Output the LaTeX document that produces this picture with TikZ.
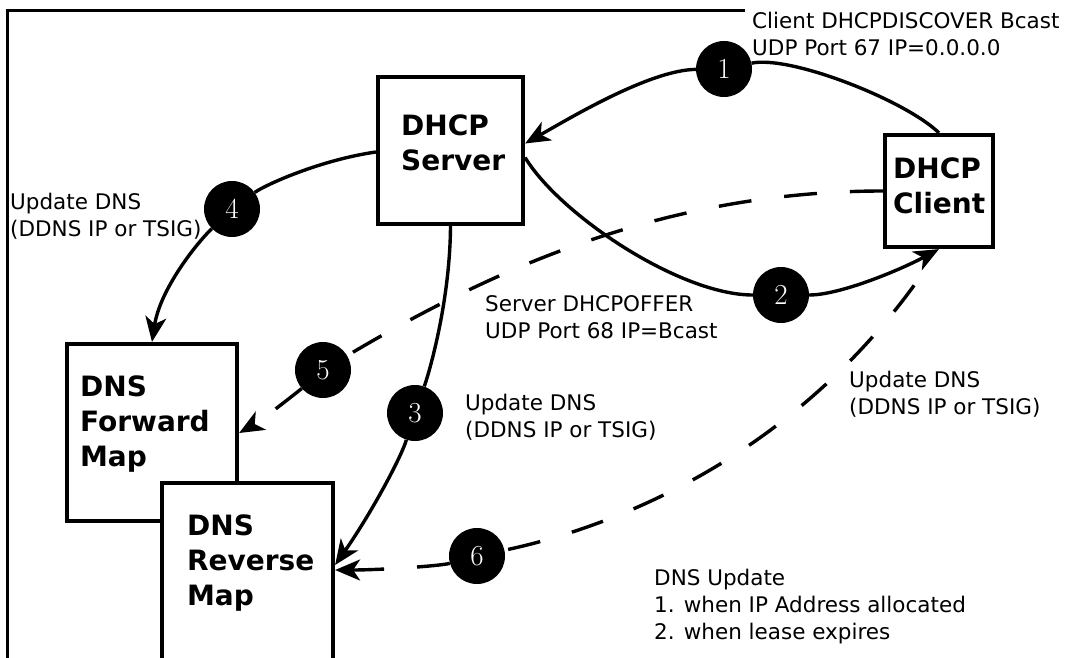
\documentclass[tikz,border=0pt]{standalone}
\usepackage{fontspec}
\setsansfont{DejaVu Sans}
\usetikzlibrary{arrows.meta}
\begin{document}
\begin{tikzpicture}[x=1pt,y=-1pt,
  box/.style={draw=black, line width=4.2pt, fill=white, inner sep=0pt},
  boxtxt/.style={inner sep=0pt, align=left, anchor=north west, font=\sffamily\bfseries\fontsize{28}{35}\selectfont},
  num/.style={circle, fill=black, minimum size=56pt, inner sep=0pt, text=white, font=\fontsize{29}{29}\selectfont},
  lbl/.style={anchor=north west, inner sep=0pt, align=left, font=\sffamily\fontsize{21.5}{27}\selectfont},
  plain/.style={line width=3.4pt},
  conn/.style={line width=3.4pt, -{Stealth[length=25pt,width=21pt,inset=7pt]}},
  dsh/.style={dash pattern=on 33pt off 33pt}
]
\useasboundingbox (0,0) rectangle (1065,658);
\fill[white] (0,0) rectangle (1065,658);
% frame
\draw[line width=3pt] (745,11) -- (7,11) -- (7,662);

% boxes
\node[box, minimum width=145pt, minimum height=147pt,
  label={[boxtxt, xshift=25pt, yshift=-39.6pt]north west:DHCP\\Server}] (srv) at (450.5,150.5) {};
\node[box, minimum width=108pt, minimum height=112pt,
  label={[boxtxt, xshift=10pt, yshift=-25pt]north west:DHCP\\Client}] (cli) at (939,191) {};
\node[box, minimum width=170pt, minimum height=177pt,
  label={[boxtxt, xshift=15pt, yshift=-33.6pt]north west:DNS\\Forward\\Map}] (fwd) at (152,432.5) {};
\node[box, minimum width=171pt, minimum height=177pt,
  label={[boxtxt, xshift=27pt, yshift=-33.6pt]north west:DNS\\Reverse\\Map}] (rev) at (247.5,571.5) {};

% step circles
\node[num] (c1) at (724,69) {1};
\node[num] (c2) at (781,295) {2};
\node[num] (c3) at (415,413) {3};
\node[num] (c4) at (232,209) {4};
\node[num] (c5) at (323,370) {5};
\node[num] (c6) at (477,556) {6};

% 1: client -> server
\draw[plain] (cli.north) .. controls (905,100) and (790,55) .. (c1);
\draw[conn] (c1) .. controls (650,70) and (570,118) .. ([yshift=7pt]srv.east);
% 2: server -> client
\draw[plain] ([yshift=-7pt]srv.east) .. controls (560,215) and (680,295) .. (c2);
\draw[conn] (c2) .. controls (840,295) and (900,270) .. (cli.south);
% 3: server -> reverse
\draw[plain] (srv.south) .. controls (450,300) and (430,370) .. (c3);
\draw[conn] (c3) .. controls (400,460) and (370,515) .. ([yshift=6.5pt]rev.east);
% 4: server -> forward
\draw[plain] ([yshift=-1.5pt]srv.west) .. controls (320,160) and (265,185) .. (c4);
\draw[conn] (c4) .. controls (195,245) and (160,290) .. (fwd.north);
% 5: client -> forward (dashed)
\draw[plain,dsh] (cli.west) .. controls (655,191) and (478,278) .. (c5);
\draw[conn,dsh] (c5) .. controls (300,390) and (262,420) .. ([yshift=-0.5pt]fwd.east);
% 6: client -> reverse (dashed)
\draw[plain,dash pattern=on 33pt off 33pt,dash phase=33pt,shorten <=11pt] (cli.south) .. controls (807,449) and (624,525) .. (c6);
\draw[conn,dsh] (c6) .. controls (440,566) and (380,570) .. ([yshift=1.5pt]rev.east);

% labels
\node[lbl] (t1) at (752,11.5) {Client DHCPDISCOVER Bcast\\UDP Port 67 IP=0.0.0.0};
\node[lbl] (t2) at (485,295) {Server DHCPOFFER\\UDP Port 68 IP=Bcast};
\node[lbl] (t3) at (465,393.5) {Update DNS\\(DDNS IP or TSIG)};
\node[lbl] (t4) at (849,370.5) {Update DNS\\(DDNS IP or TSIG)};
\node[lbl] (t5) at (10,193.3) {Update DNS\\(DDNS IP or TSIG)};
\node[lbl] (t6) at (654,568.5) {DNS Update\\1. when IP Address allocated\\2. when lease expires};
\end{tikzpicture}
\end{document}
